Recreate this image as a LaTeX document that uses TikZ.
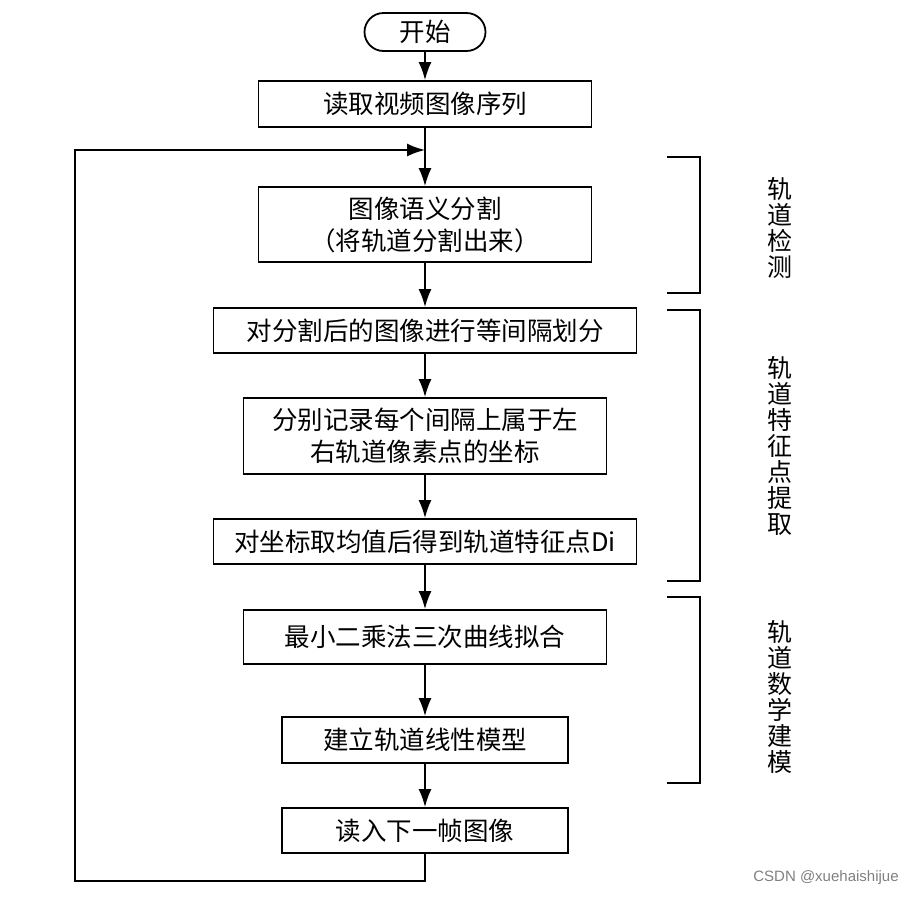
\documentclass[tikz,border=0pt]{standalone}
\usepackage{fontspec}
\setmainfont{Noto Sans CJK SC}
\setsansfont{Liberation Sans}
\usepackage{tikz}
\usetikzlibrary{arrows.meta}
\usepackage{xcolor}

\tikzset{
  box/.style={draw,line width=1.8pt,inner sep=0pt,align=center,
    font=\fontsize{25.5}{32}\selectfont},
  arr/.style={line width=1.8pt,-{Latex[length=18pt,width=13pt]}},
  brace/.style={line width=1.8pt},
  side/.style={align=center,font=\fontsize{25}{26}\selectfont}
}

\begin{document}
\begin{tikzpicture}[x=1pt,y=-1pt]
  \useasboundingbox (0,0) rectangle (923,898);
  % main column
  \node[box,rounded corners=19pt,minimum width=121pt,minimum height=38pt] (start) at (425,32) {开始};
  \node[box,minimum width=333pt,minimum height=46pt] (read) at (425,104) {读取视频图像序列};
  \node[box,minimum width=333pt,minimum height=75pt] (seg) at (425,224.5) {图像语义分割\\（将轨道分割出来）};
  \node[box,minimum width=423pt,minimum height=45pt] (split) at (425,330.5) {对分割后的图像进行等间隔划分};
  \node[box,minimum width=363pt,minimum height=76pt] (rec) at (425,436) {分别记录每个间隔上属于左\\右轨道像素点的坐标};
  \node[box,minimum width=423pt,minimum height=45pt] (mean) at (425,541.5) {对坐标取均值后得到轨道特征点Di};
  \node[box,minimum width=363pt,minimum height=54pt] (fit) at (425,637) {最小二乘法三次曲线拟合};
  \node[box,minimum width=286pt,minimum height=46pt] (model) at (425,740) {建立轨道线性模型};
  \node[box,minimum width=286pt,minimum height=45pt] (next) at (425,830.5) {读入下一帧图像};
  \coordinate (join) at (425,150);
  \coordinate (back) at (75,881);
  % arrows
  \draw[arr] (start) -- (read);
  \draw[arr] (read) -- (seg);
  \draw[arr] (seg) -- (split);
  \draw[arr] (split) -- (rec);
  \draw[arr] (rec) -- (mean);
  \draw[arr] (mean) -- (fit);
  \draw[arr] (fit) -- (model);
  \draw[arr] (model) -- (next);
  \draw[arr] (next.south) |- (back) |- (join);
  % brackets on the right
  \draw[brace] (667,157) -- (700,157) -- (700,293) -- (667,293);
  \draw[brace] (667,310) -- (700,310) -- (700,581) -- (667,581);
  \draw[brace] (667,597) -- (700,597) -- (700,783) -- (667,783);
  \node[side] (detect) at (780,228) {轨\\道\\检\\测};
  \node[side] (feat) at (780,446) {轨\\道\\特\\征\\点\\提\\取};
  \node[side] (math) at (780,697) {轨\\道\\数\\学\\建\\模};
  \node[text=gray,font=\sffamily\fontsize{15}{16}\selectfont] (mark) at (826,878) {CSDN @xuehaishijue};
\end{tikzpicture}
\end{document}
